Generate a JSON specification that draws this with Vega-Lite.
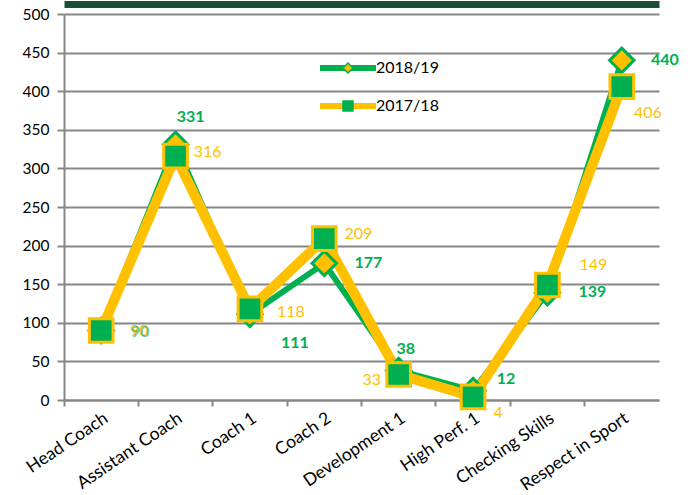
{
  "$schema": "https://vega.github.io/schema/vega-lite/v6.json",
  "width": 595,
  "height": 386,
  "autosize": "none",
  "padding": {"left": 64, "top": 14, "right": 33, "bottom": 95},
  "background": "white",
  "config": {
    "view": {"stroke": null},
    "font": "Lato",
    "axis": {"labelFont": "Lato", "labelColor": "#000000"},
    "legend": {"labelFont": "Lato"}
  },
  "data": {
    "values": [
      {"cat": "Head Coach", "series": "2018/19", "value": 90},
      {"cat": "Assistant Coach", "series": "2018/19", "value": 331},
      {"cat": "Coach 1", "series": "2018/19", "value": 111},
      {"cat": "Coach 2", "series": "2018/19", "value": 177},
      {"cat": "Development 1", "series": "2018/19", "value": 38},
      {"cat": "High Perf. 1", "series": "2018/19", "value": 12},
      {"cat": "Checking Skills", "series": "2018/19", "value": 139},
      {"cat": "Respect in Sport", "series": "2018/19", "value": 440},
      {"cat": "Head Coach", "series": "2017/18", "value": 90},
      {"cat": "Assistant Coach", "series": "2017/18", "value": 316},
      {"cat": "Coach 1", "series": "2017/18", "value": 118},
      {"cat": "Coach 2", "series": "2017/18", "value": 209},
      {"cat": "Development 1", "series": "2017/18", "value": 33},
      {"cat": "High Perf. 1", "series": "2017/18", "value": 4},
      {"cat": "Checking Skills", "series": "2017/18", "value": 149},
      {"cat": "Respect in Sport", "series": "2017/18", "value": 406}
    ]
  },
  "encoding": {
    "x": {
      "field": "cat", "type": "nominal",
      "sort": ["Head Coach", "Assistant Coach", "Coach 1", "Coach 2", "Development 1", "High Perf. 1", "Checking Skills", "Respect in Sport"],
      "scale": {"type": "band", "paddingInner": 0, "paddingOuter": 0},
      "axis": {
        "orient": "bottom", "title": null, "labelAngle": -34, "labelFontSize": 17.5, "labelPadding": 3,
        "bandPosition": 0, "domainColor": "#868686", "domainWidth": 2,
        "tickColor": "#868686", "tickWidth": 2, "tickSize": 6, "grid": false
      }
    },
    "y": {
      "field": "value", "type": "quantitative",
      "scale": {"domain": [0, 500], "nice": false},
      "axis": {
        "title": null, "values": [0, 50, 100, 150, 200, 250, 300, 350, 400, 450, 500],
        "labelFontSize": 15.5, "labelPadding": 8, "grid": true, "gridColor": "#868686", "gridWidth": 2,
        "domainColor": "#868686", "domainWidth": 2, "tickColor": "#868686", "tickWidth": 2, "tickSize": 7
      }
    }
  },
  "layer": [
    {
      "layer": [
        {
          "transform": [{"filter": "datum.series == '2018/19'"}],
          "mark": {"type": "line", "strokeWidth": 6, "strokeJoin": "miter"},
          "encoding": {
            "stroke": {
              "field": "series", "type": "nominal",
              "scale": {"domain": ["2018/19", "2017/18"], "range": ["#00b050", "#ffc000"]},
              "legend": {
                "orient": "none", "legendX": 253, "legendY": 46, "title": null, "padding": 0,
                "symbolType": "stroke", "symbolSize": 3136, "symbolStrokeWidth": 6, "clipHeight": 16,
                "labelFontSize": 16, "labelColor": "#000000", "labelOffset": -3, "rowPadding": 22
              }
            }
          }
        },
        {
          "transform": [{"filter": "datum.series == '2017/18'"}],
          "mark": {"type": "line", "strokeWidth": 10, "strokeJoin": "miter"},
          "encoding": {
            "stroke": {"field": "series", "type": "nominal"}
          }
        },
        {
          "transform": [{"filter": "datum.series == '2018/19'"}],
          "mark": {"type": "point", "filled": true, "stroke": "#00b050", "strokeWidth": 3, "size": 600, "opacity": 1},
          "encoding": {
            "fill": {
              "field": "series", "type": "nominal",
              "scale": {"domain": ["2017/18", "2018/19"], "range": ["#00b050", "#ffc000"]},
              "legend": {
                "orient": "none", "legendX": 276, "legendY": 46, "title": null, "padding": 0,
                "values": ["2018/19", "2017/18"], "clipHeight": 16, "labelExpr": "''",
                "symbolSize": 100, "labelFontSize": 16, "labelColor": "transparent", "rowPadding": 22,
                "encode": {"symbols": {"update": {
                  "stroke": {"signal": "datum.value == '2018/19' ? '#00b050' : '#ffc000'"},
                  "strokeWidth": {"value": 2},
                  "size": {"signal": "datum.value == '2018/19' ? 45 : 150"}
                }}}
              }
            },
            "shape": {
              "field": "series", "type": "nominal",
              "scale": {"domain": ["2017/18", "2018/19"], "range": ["square", "diamond"]},
              "legend": {
                "orient": "none", "legendX": 276, "legendY": 46, "title": null, "padding": 0,
                "values": ["2018/19", "2017/18"], "clipHeight": 16, "labelExpr": "''",
                "symbolSize": 100, "labelFontSize": 16, "labelColor": "transparent", "rowPadding": 22,
                "encode": {"symbols": {"update": {
                  "stroke": {"signal": "datum.value == '2018/19' ? '#00b050' : '#ffc000'"},
                  "strokeWidth": {"value": 2},
                  "size": {"signal": "datum.value == '2018/19' ? 45 : 150"}
                }}}
              }
            }
          }
        },
        {
          "transform": [{"filter": "datum.series == '2017/18'"}],
          "mark": {"type": "point", "filled": true, "stroke": "#ffc000", "strokeWidth": 3, "size": 560, "opacity": 1},
          "encoding": {
            "fill": {"field": "series", "type": "nominal"},
            "shape": {"field": "series", "type": "nominal"}
          }
        },
        {"transform": [{"filter": "datum.series == '2017/18' && datum.cat == 'Head Coach'"}], "mark": {"type": "text", "dx": 38, "dy": 0, "fontSize": 16, "color": "#ffc000", "baseline": "middle"}, "encoding": {"text": {"field": "value"}}},
        {"transform": [{"filter": "datum.series == '2018/19' && datum.cat == 'Head Coach'"}], "mark": {"type": "text", "dx": 39, "dy": 1, "fontSize": 16, "fontWeight": "bold", "color": "#00b050", "opacity": 0.6, "baseline": "middle"}, "encoding": {"text": {"field": "value"}}},
        {"transform": [{"filter": "datum.series == '2018/19' && datum.cat == 'Assistant Coach'"}], "mark": {"type": "text", "dx": 15, "dy": -27, "fontSize": 16, "fontWeight": "bold", "color": "#00b050", "baseline": "middle"}, "encoding": {"text": {"field": "value"}}},
        {"transform": [{"filter": "datum.series == '2018/19' && datum.cat == 'Coach 1'"}], "mark": {"type": "text", "dx": 45, "dy": 29, "fontSize": 16, "fontWeight": "bold", "color": "#00b050", "baseline": "middle"}, "encoding": {"text": {"field": "value"}}},
        {"transform": [{"filter": "datum.series == '2018/19' && datum.cat == 'Coach 2'"}], "mark": {"type": "text", "dx": 44, "dy": 0, "fontSize": 16, "fontWeight": "bold", "color": "#00b050", "baseline": "middle"}, "encoding": {"text": {"field": "value"}}},
        {"transform": [{"filter": "datum.series == '2018/19' && datum.cat == 'Development 1'"}], "mark": {"type": "text", "dx": 7, "dy": -22, "fontSize": 16, "fontWeight": "bold", "color": "#00b050", "baseline": "middle"}, "encoding": {"text": {"field": "value"}}},
        {"transform": [{"filter": "datum.series == '2018/19' && datum.cat == 'High Perf. 1'"}], "mark": {"type": "text", "dx": 33, "dy": -12, "fontSize": 16, "fontWeight": "bold", "color": "#00b050", "baseline": "middle"}, "encoding": {"text": {"field": "value"}}},
        {"transform": [{"filter": "datum.series == '2018/19' && datum.cat == 'Checking Skills'"}], "mark": {"type": "text", "dx": 45, "dy": -1, "fontSize": 16, "fontWeight": "bold", "color": "#00b050", "baseline": "middle"}, "encoding": {"text": {"field": "value"}}},
        {"transform": [{"filter": "datum.series == '2018/19' && datum.cat == 'Respect in Sport'"}], "mark": {"type": "text", "dx": 43, "dy": 0, "fontSize": 16, "fontWeight": "bold", "color": "#00b050", "baseline": "middle"}, "encoding": {"text": {"field": "value"}}},
        {"transform": [{"filter": "datum.series == '2017/18' && datum.cat == 'Assistant Coach'"}], "mark": {"type": "text", "dx": 32, "dy": -4, "fontSize": 16, "color": "#ffc000", "baseline": "middle"}, "encoding": {"text": {"field": "value"}}},
        {"transform": [{"filter": "datum.series == '2017/18' && datum.cat == 'Coach 1'"}], "mark": {"type": "text", "dx": 41, "dy": 3, "fontSize": 16, "color": "#ffc000", "baseline": "middle"}, "encoding": {"text": {"field": "value"}}},
        {"transform": [{"filter": "datum.series == '2017/18' && datum.cat == 'Coach 2'"}], "mark": {"type": "text", "dx": 34, "dy": -5, "fontSize": 16, "color": "#ffc000", "baseline": "middle"}, "encoding": {"text": {"field": "value"}}},
        {"transform": [{"filter": "datum.series == '2017/18' && datum.cat == 'Development 1'"}], "mark": {"type": "text", "dx": -27, "dy": 5, "fontSize": 16, "color": "#ffc000", "baseline": "middle"}, "encoding": {"text": {"field": "value"}}},
        {"transform": [{"filter": "datum.series == '2017/18' && datum.cat == 'High Perf. 1'"}], "mark": {"type": "text", "dx": 25, "dy": 16, "fontSize": 16, "color": "#ffc000", "baseline": "middle"}, "encoding": {"text": {"field": "value"}}},
        {"transform": [{"filter": "datum.series == '2017/18' && datum.cat == 'Checking Skills'"}], "mark": {"type": "text", "dx": 46, "dy": -20, "fontSize": 16, "color": "#ffc000", "baseline": "middle"}, "encoding": {"text": {"field": "value"}}},
        {"transform": [{"filter": "datum.series == '2017/18' && datum.cat == 'Respect in Sport'"}], "mark": {"type": "text", "dx": 26, "dy": 26, "fontSize": 16, "color": "#ffc000", "baseline": "middle"}, "encoding": {"text": {"field": "value"}}}
      ]
    },
    {
      "mark": {"type": "point", "opacity": 0},
      "encoding": {
        "x": {
          "field": "cat", "type": "nominal",
          "sort": ["Head Coach", "Assistant Coach", "Coach 1", "Coach 2", "Development 1", "High Perf. 1", "Checking Skills", "Respect in Sport"],
          "axis": {"orient": "top", "labels": false, "ticks": false, "grid": false, "title": null, "domain": true, "domainColor": "#1b4f34", "domainWidth": 7, "offset": 10}
        }
      }
    }
  ],
  "resolve": {"axis": {"x": "independent"}}
}
